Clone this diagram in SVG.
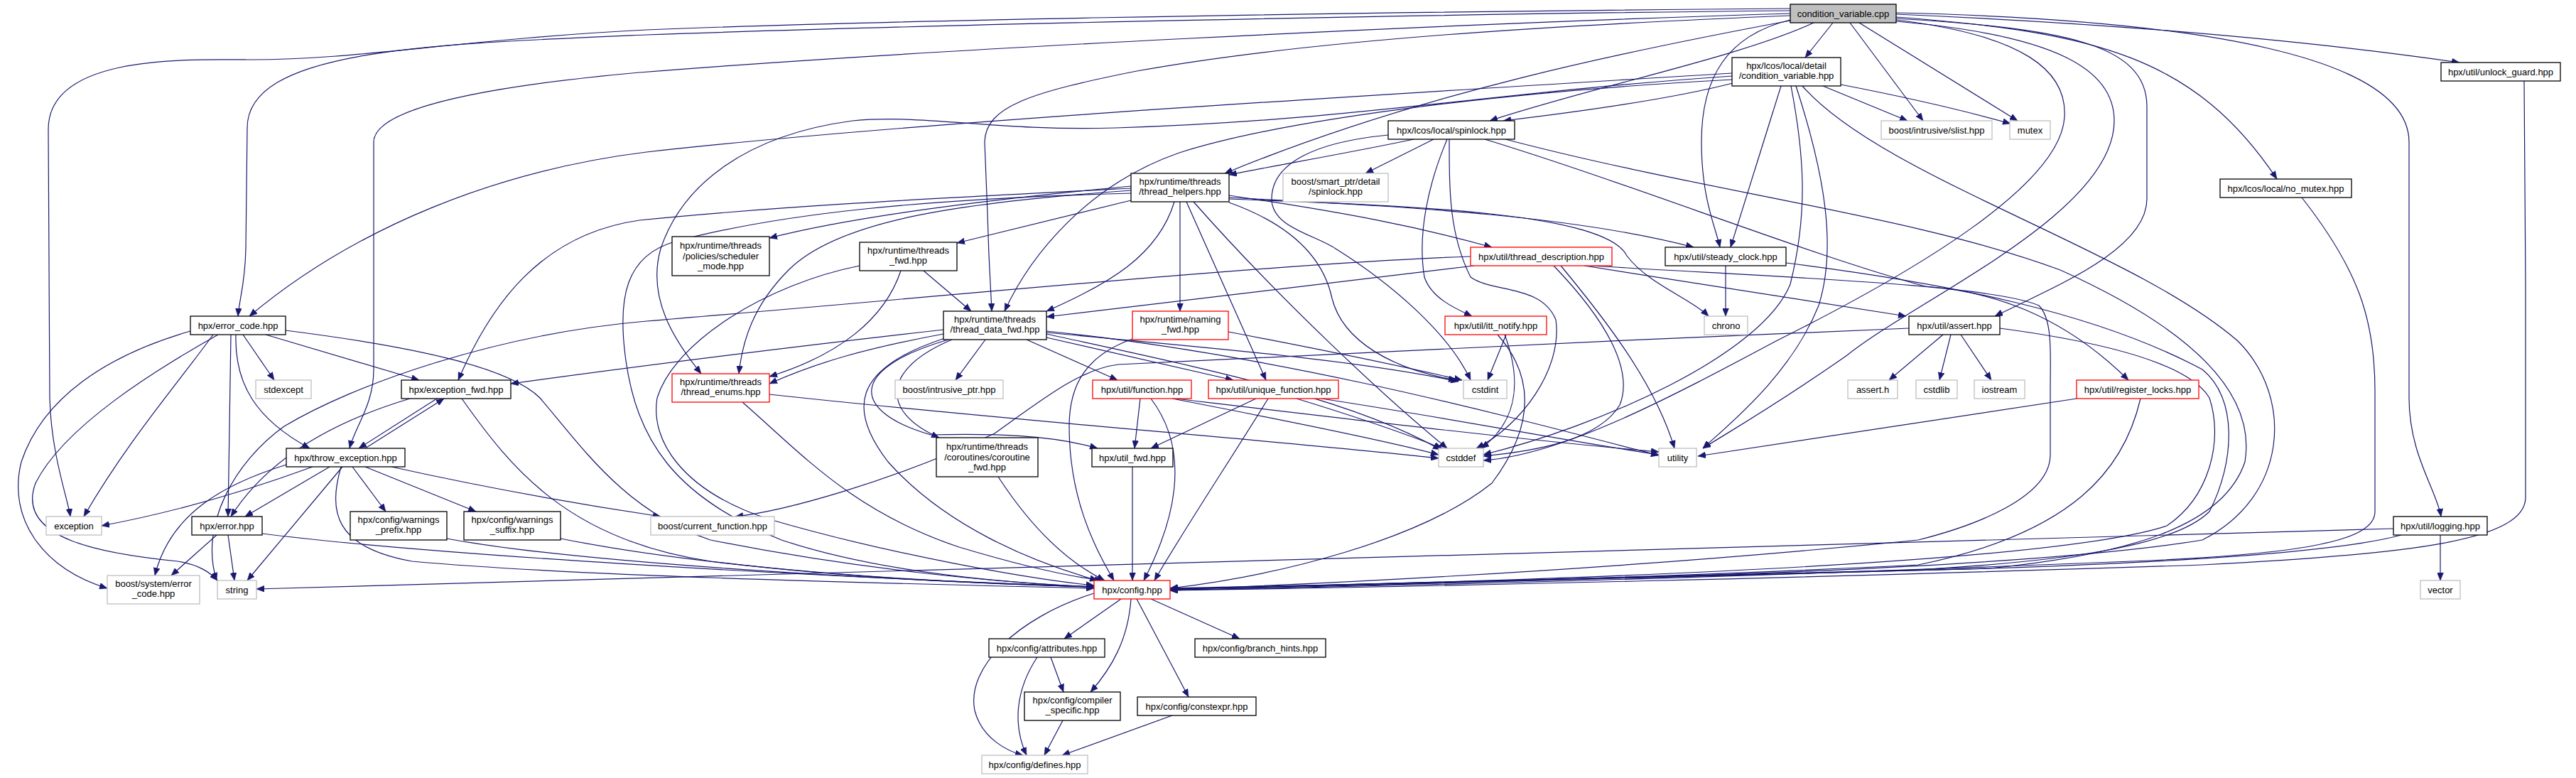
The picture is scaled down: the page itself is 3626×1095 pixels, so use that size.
<svg xmlns="http://www.w3.org/2000/svg" width="3626" height="1095" viewBox="0 0 3626 1095">
<defs>
<marker id="arr" markerUnits="userSpaceOnUse" markerWidth="11" markerHeight="9" refX="11" refY="4.5" orient="auto">
<path d="M0,0 L11,4.5 L0,9 z" fill="#191970" stroke="#191970" stroke-width="0.5"/>
</marker>
<style>
rect{fill:#fff;stroke:#000;stroke-width:1.3}
.r rect{stroke:#ff0000}
.g rect{stroke:#bfbfbf}
.root rect{fill:#bfbfbf}
text{font-family:"Liberation Sans",Arial,sans-serif;font-size:13px;text-anchor:middle;fill:#000}
#edges path{fill:none;stroke:#191970;stroke-width:1.2;marker-end:url(#arr)}
</style>
</defs>
<rect x="0" y="0" width="3626" height="1095" style="fill:#fff;stroke:none"/>
<g id="edges">
<path d="M2580,32 L2541,81"/>
<path d="M2604,32 L2707,170"/>
<path d="M2617,32 L2840,170"/>
<path d="M2669,20 C2900,30 3200,50 3462,88"/>
<path d="M2669,24 C2950,45 3090,80 3205,252"/>
<path d="M2669,18 C3100,28 3391,80 3391,200 L3391,560 C3391,640 3430,690 3436,727"/>
<path d="M2669,26 C2900,40 3022,60 3022,150 L3022,280 C3022,350 2900,400 2808,445"/>
<path d="M2669,28 C2850,50 2910,100 2906,165 C2900,260 2700,380 2500,480 C2350,560 2200,640 2088,648"/>
<path d="M2669,30 C2900,50 2976,100 2976,170 C2976,300 2700,420 2600,500 C2500,570 2430,610 2397,631"/>
<path d="M2520,28 C2430,50 2395,110 2395,200 C2395,280 2415,320 2421,348"/>
<path d="M2553,32 C2450,80 2250,120 2097,170"/>
<path d="M2520,29 C2300,70 2000,130 1724,244"/>
<path d="M2520,22 C2200,35 1850,55 1600,100 C1450,130 1387,150 1386,200 L1390,300 C1392,380 1395,410 1396,438"/>
<path d="M2520,19 C2000,35 1300,70 900,102 C700,120 526,150 526,200 L526,520 C526,570 500,600 492,631"/>
<path d="M2520,15 C2000,20 1300,35 910,49 C600,62 348,70 348,180 L346,350 C345,400 337,420 335,445"/>
<path d="M2520,12 C1800,18 1200,30 910,42 C650,55 500,85 348,84 C250,83 68,80 68,182 L70,560 C72,640 95,700 99,727"/>
<path d="M2439,117 C2350,140 2200,160 2116,170"/>
<path d="M2507,121 L2436,348"/>
<path d="M2566,121 L2685,170"/>
<path d="M2591,119 C2700,140 2780,160 2830,174"/>
<path d="M2438,103 C2000,130 1300,170 910,214 C700,240 500,320 351,445"/>
<path d="M2439,107 C2100,130 1900,170 1570,180 C1400,185 1300,160 1200,170 C1050,190 960,260 930,350 C910,420 950,480 987,526"/>
<path d="M2439,112 C2100,130 1800,170 1660,215 C1530,260 1450,360 1414,438"/>
<path d="M2521,121 C2540,220 2545,300 2520,400 C2480,500 2250,600 2088,640"/>
<path d="M2528,121 C2570,250 2585,350 2560,430 C2520,530 2430,600 2397,631"/>
<path d="M2537,121 C2650,250 3000,350 3150,480 C3230,560 3220,700 3100,760 C2800,810 2000,820 1647,828"/>
<path d="M1990,196 C1900,215 1800,232 1730,246"/>
<path d="M2018,196 L1922,244"/>
<path d="M2037,196 C2010,260 1995,330 2005,390 C2015,420 2050,435 2072,445"/>
<path d="M2040,196 C2040,270 2040,330 2070,390 C2100,412 2170,400 2190,450 C2200,520 2140,600 2078,631"/>
<path d="M1954,190 C1850,200 1790,230 1790,280 C1790,320 1850,330 1880,350 C1960,400 2040,470 2070,535"/>
<path d="M2090,196 C2300,260 2550,360 2710,403 C2800,410 2900,440 2996,535"/>
<path d="M2119,196 C2400,270 2700,305 2900,380 C3100,470 3175,560 3160,650 C3130,740 3000,780 2800,800 C2400,812 1900,820 1647,829"/>
<path d="M1592,262 C1400,280 1200,305 1083,335"/>
<path d="M1592,282 L1347,342"/>
<path d="M1653,284 C1630,360 1560,400 1473,438"/>
<path d="M1661,284 L1661,438"/>
<path d="M1670,284 L1782,535"/>
<path d="M1680,284 C1800,420 1950,560 2037,631"/>
<path d="M1730,285 C1800,310 1860,350 1875,420 C1890,480 1960,520 2050,535"/>
<path d="M1592,268 C1350,285 1180,310 1110,380 C1060,430 1045,480 1040,526"/>
<path d="M1592,265 C1300,280 1100,290 900,310 C760,330 690,430 645,535"/>
<path d="M1592,272 C1300,280 1100,300 950,340 C880,360 870,420 880,500 C895,620 950,700 1100,760 C1250,810 1450,822 1540,826"/>
<path d="M1730,275 C1900,300 2000,320 2100,348"/>
<path d="M1730,278 C1950,290 2200,300 2384,348"/>
<path d="M1730,280 C2000,290 2260,300 2290,360 C2320,400 2380,420 2405,445"/>
<path d="M1300,381 L1367,438"/>
<path d="M1268,381 C1245,450 1180,500 1083,530"/>
<path d="M1210,374 C1080,400 950,480 925,560 C915,620 960,690 1080,730 C1250,780 1450,815 1540,824"/>
<path d="M1328,464 C1100,490 900,515 719,540"/>
<path d="M1328,470 C1220,490 1150,510 1083,540"/>
<path d="M1387,478 L1345,535"/>
<path d="M1445,478 L1573,535"/>
<path d="M1473,475 L1736,535"/>
<path d="M1340,478 C1240,520 1240,580 1322,616"/>
<path d="M1335,478 C1190,520 1200,580 1310,612 C1400,610 1480,612 1545,631"/>
<path d="M1330,476 C1195,520 1196,580 1250,650 C1330,740 1450,790 1545,817"/>
<path d="M1473,468 C1700,490 1900,505 2053,537"/>
<path d="M1473,470 C1700,520 1900,560 2028,633"/>
<path d="M1473,466 C1800,500 2100,580 2335,641"/>
<path d="M1594,477 C1530,500 1505,540 1505,600 C1505,700 1540,770 1568,817"/>
<path d="M1729,467 C1850,490 1950,510 2058,535"/>
<path d="M1045,566 C1130,640 1200,720 1350,770 C1450,800 1510,812 1552,817"/>
<path d="M1083,555 C1400,590 1800,620 2025,645"/>
<path d="M1605,561 L1597,631"/>
<path d="M1620,561 C1680,640 1650,740 1610,817"/>
<path d="M1650,561 C1800,590 1950,620 2025,640"/>
<path d="M1655,561 C1900,590 2150,620 2335,636"/>
<path d="M1768,561 L1620,631"/>
<path d="M1785,561 C1730,650 1670,740 1625,817"/>
<path d="M1825,561 C1920,590 1990,615 2030,631"/>
<path d="M1860,561 C2050,590 2200,620 2335,640"/>
<path d="M1405,671 C1450,740 1500,790 1555,817"/>
<path d="M1594,657 L1594,817"/>
<path d="M1578,843 L1498,899"/>
<path d="M1620,843 L1745,899"/>
<path d="M1592,843 C1588,900 1565,940 1535,974"/>
<path d="M1600,843 L1673,981"/>
<path d="M1540,835 C1430,870 1360,940 1372,1000 C1382,1040 1420,1058 1440,1063"/>
<path d="M1479,925 L1497,974"/>
<path d="M1460,925 C1430,970 1425,1020 1445,1063"/>
<path d="M1496,1014 L1470,1063"/>
<path d="M1650,1007 L1495,1063"/>
<path d="M2429,374 L2429,445"/>
<path d="M2514,370 C2750,400 2950,440 3100,520 C3150,560 3146,650 3110,720 C3060,770 2900,790 2700,802 C2300,815 1900,822 1647,829"/>
<path d="M2075,374 C1900,395 1700,420 1473,446"/>
<path d="M2070,361 C1800,370 1300,420 910,452 C700,470 500,540 400,600 C330,650 280,740 305,817"/>
<path d="M2187,374 C2260,450 2300,520 2280,570 C2250,620 2160,635 2088,642"/>
<path d="M2197,374 C2260,450 2330,540 2357,631"/>
<path d="M2230,374 L2683,445"/>
<path d="M2240,374 C2500,390 2800,400 2870,430 C2890,450 2886,500 2886,550 L2886,640 C2886,700 2780,740 2700,760 C2300,800 1900,820 1647,830"/>
<path d="M2120,471 L2094,535"/>
<path d="M2118,471 C2140,530 2140,590 2085,631"/>
<path d="M2108,471 C2160,530 2160,600 2100,680 C2000,760 1800,810 1647,828"/>
<path d="M2735,471 L2659,535"/>
<path d="M2746,471 L2730,535"/>
<path d="M2760,471 L2803,535"/>
<path d="M2687,462 C2300,478 1700,505 1574,513 C1520,520 1470,560 1400,610 C1250,680 1100,720 1035,727"/>
<path d="M2815,462 C2950,480 3080,510 3110,560 C3130,620 3110,700 3050,740 C2900,790 2300,815 1647,829"/>
<path d="M2923,561 L2390,642"/>
<path d="M3013,561 C2990,660 2920,750 2700,795 C2300,815 1900,824 1647,829"/>
<path d="M3240,278 C3320,380 3343,450 3343,550 L3343,720 C3343,760 3250,780 3000,790 C2500,810 2000,825 1647,830"/>
<path d="M3553,114 L3555,400 L3555,700 C3555,760 3400,780 3100,795 C2600,812 2000,826 1647,831"/>
<path d="M3435,753 L3435,817"/>
<path d="M3369,744 L361,829"/>
<path d="M3380,753 C3300,775 3100,790 2800,800 C2300,815 1900,825 1647,831"/>
<path d="M342,471 L386,535"/>
<path d="M374,471 L590,535"/>
<path d="M332,471 C330,540 360,590 436,631"/>
<path d="M325,471 L321,727"/>
<path d="M300,471 C250,540 180,620 118,727"/>
<path d="M402,465 C600,490 720,520 760,560 C820,630 880,720 1000,760 C1200,800 1400,820 1540,826"/>
<path d="M268,466 C150,500 60,560 30,650 C10,730 60,800 151,828"/>
<path d="M307,471 C220,520 90,600 50,680 C20,760 150,780 250,790 C280,795 295,805 306,817"/>
<path d="M615,561 L505,631"/>
<path d="M577,561 C480,590 380,640 325,727"/>
<path d="M650,561 C720,660 800,760 1000,790 C1200,815 1400,822 1540,826"/>
<path d="M514,631 L625,561"/>
<path d="M440,657 C350,690 250,720 143,740"/>
<path d="M464,657 L345,727"/>
<path d="M482,657 L348,817"/>
<path d="M403,654 C320,680 240,720 218,810"/>
<path d="M551,657 C700,690 850,715 930,727"/>
<path d="M496,657 L543,720"/>
<path d="M514,657 L670,720"/>
<path d="M480,657 C462,720 470,770 580,790 C800,810 1200,820 1540,828"/>
<path d="M305,753 L241,810"/>
<path d="M321,753 L330,817"/>
<path d="M369,751 C600,780 1100,810 1540,826"/>
<path d="M629,758 C800,790 1200,815 1540,826"/>
<path d="M789,758 C1000,800 1300,820 1540,826"/>
</g>
<g id="n_root" class="root"><rect x="2520" y="6" width="149" height="26"/><text x="2594.5" y="23.5">condition_variable.cpp</text></g>
<g id="n_cvh"><rect x="2438" y="81" width="153" height="40"/><text x="2514.5" y="97">hpx/lcos/local/detail</text><text x="2514.5" y="111">/condition_variable.hpp</text></g>
<g id="n_spin"><rect x="1954" y="170" width="178" height="26"/><text x="2043" y="187.5">hpx/lcos/local/spinlock.hpp</text></g>
<g id="n_bspin" class="g"><rect x="1806" y="244" width="148" height="40"/><text x="1880" y="260">boost/smart_ptr/detail</text><text x="1880" y="274">/spinlock.hpp</text></g>
<g id="n_th"><rect x="1592" y="244" width="138" height="40"/><text x="1661" y="260">hpx/runtime/threads</text><text x="1661" y="274">/thread_helpers.hpp</text></g>
<g id="n_sm"><rect x="946" y="333" width="137" height="55"/><text x="1014.5" y="350">hpx/runtime/threads</text><text x="1014.5" y="365">/policies/scheduler</text><text x="1014.5" y="379">_mode.hpp</text></g>
<g id="n_tf"><rect x="1210" y="341" width="137" height="40"/><text x="1278.5" y="357">hpx/runtime/threads</text><text x="1278.5" y="371">_fwd.hpp</text></g>
<g id="n_tdf"><rect x="1328" y="438" width="145" height="40"/><text x="1400.5" y="454">hpx/runtime/threads</text><text x="1400.5" y="468">/thread_data_fwd.hpp</text></g>
<g id="n_nf" class="r"><rect x="1594" y="438" width="135" height="40"/><text x="1661.5" y="454">hpx/runtime/naming</text><text x="1661.5" y="468">_fwd.hpp</text></g>
<g id="n_te" class="r"><rect x="946" y="526" width="137" height="40"/><text x="1014.5" y="542">hpx/runtime/threads</text><text x="1014.5" y="556">/thread_enums.hpp</text></g>
<g id="n_bip" class="g"><rect x="1260" y="535" width="152" height="26"/><text x="1336" y="552.5">boost/intrusive_ptr.hpp</text></g>
<g id="n_fn" class="r"><rect x="1538" y="535" width="139" height="26"/><text x="1607.5" y="552.5">hpx/util/function.hpp</text></g>
<g id="n_ufn" class="r"><rect x="1701" y="535" width="183" height="26"/><text x="1792.5" y="552.5">hpx/util/unique_function.hpp</text></g>
<g id="n_cf"><rect x="1318" y="616" width="143" height="55"/><text x="1389.5" y="633">hpx/runtime/threads</text><text x="1389.5" y="648">/coroutines/coroutine</text><text x="1389.5" y="662">_fwd.hpp</text></g>
<g id="n_uf"><rect x="1537" y="631" width="114" height="26"/><text x="1594" y="648.5">hpx/util_fwd.hpp</text></g>
<g id="n_bcf" class="g"><rect x="916" y="727" width="174" height="26"/><text x="1003" y="744.5">boost/current_function.hpp</text></g>
<g id="n_cfg" class="r"><rect x="1540" y="817" width="107" height="26"/><text x="1593.5" y="834.5">hpx/config.hpp</text></g>
<g id="n_attr"><rect x="1392" y="899" width="163" height="26"/><text x="1473.5" y="916.5">hpx/config/attributes.hpp</text></g>
<g id="n_bh"><rect x="1682" y="899" width="184" height="26"/><text x="1774" y="916.5">hpx/config/branch_hints.hpp</text></g>
<g id="n_cs"><rect x="1442" y="974" width="135" height="40"/><text x="1509.5" y="990">hpx/config/compiler</text><text x="1509.5" y="1004">_specific.hpp</text></g>
<g id="n_ce"><rect x="1601" y="981" width="167" height="26"/><text x="1684.5" y="998.5">hpx/config/constexpr.hpp</text></g>
<g id="n_def" class="g"><rect x="1382" y="1063" width="149" height="26"/><text x="1456.5" y="1080.5">hpx/config/defines.hpp</text></g>
<g id="n_ec"><rect x="268" y="445" width="134" height="26"/><text x="335" y="462.5">hpx/error_code.hpp</text></g>
<g id="n_stdexcept" class="g"><rect x="360" y="535" width="78" height="26"/><text x="399" y="552.5">stdexcept</text></g>
<g id="n_ef"><rect x="565" y="535" width="154" height="26"/><text x="642" y="552.5">hpx/exception_fwd.hpp</text></g>
<g id="n_tx"><rect x="403" y="631" width="167" height="26"/><text x="486.5" y="648.5">hpx/throw_exception.hpp</text></g>
<g id="n_exception" class="g"><rect x="65" y="727" width="78" height="26"/><text x="104" y="744.5">exception</text></g>
<g id="n_err"><rect x="270" y="727" width="99" height="26"/><text x="319.5" y="744.5">hpx/error.hpp</text></g>
<g id="n_wp"><rect x="493" y="720" width="136" height="40"/><text x="561" y="736">hpx/config/warnings</text><text x="561" y="750">_prefix.hpp</text></g>
<g id="n_ws"><rect x="653" y="720" width="136" height="40"/><text x="721" y="736">hpx/config/warnings</text><text x="721" y="750">_suffix.hpp</text></g>
<g id="n_bsec" class="g"><rect x="151" y="810" width="130" height="40"/><text x="216" y="826">boost/system/error</text><text x="216" y="840">_code.hpp</text></g>
<g id="n_string" class="g"><rect x="306" y="817" width="55" height="26"/><text x="333.5" y="834.5">string</text></g>
<g id="n_td" class="r"><rect x="2070" y="348" width="199" height="26"/><text x="2169.5" y="365.5">hpx/util/thread_description.hpp</text></g>
<g id="n_sc"><rect x="2344" y="348" width="170" height="26"/><text x="2429" y="365.5">hpx/util/steady_clock.hpp</text></g>
<g id="n_itt" class="r"><rect x="2034" y="445" width="143" height="26"/><text x="2105.5" y="462.5">hpx/util/itt_notify.hpp</text></g>
<g id="n_chrono" class="g"><rect x="2399" y="445" width="61" height="26"/><text x="2429.5" y="462.5">chrono</text></g>
<g id="n_cstdint" class="g"><rect x="2060" y="535" width="61" height="26"/><text x="2090.5" y="552.5">cstdint</text></g>
<g id="n_cstddef" class="g"><rect x="2025" y="631" width="63" height="26"/><text x="2056.5" y="648.5">cstddef</text></g>
<g id="n_utility" class="g"><rect x="2335" y="631" width="53" height="26"/><text x="2361.5" y="648.5">utility</text></g>
<g id="n_ah"><rect x="2687" y="445" width="128" height="26"/><text x="2751" y="462.5">hpx/util/assert.hpp</text></g>
<g id="n_asserth" class="g"><rect x="2601" y="535" width="70" height="26"/><text x="2636" y="552.5">assert.h</text></g>
<g id="n_cstdlib" class="g"><rect x="2697" y="535" width="58" height="26"/><text x="2726" y="552.5">cstdlib</text></g>
<g id="n_iostream" class="g"><rect x="2779" y="535" width="71" height="26"/><text x="2814.5" y="552.5">iostream</text></g>
<g id="n_rl" class="r"><rect x="2923" y="535" width="172" height="26"/><text x="3009" y="552.5">hpx/util/register_locks.hpp</text></g>
<g id="n_slist" class="g"><rect x="2648" y="170" width="156" height="26"/><text x="2726" y="187.5">boost/intrusive/slist.hpp</text></g>
<g id="n_mutex" class="g"><rect x="2829" y="170" width="57" height="26"/><text x="2857.5" y="187.5">mutex</text></g>
<g id="n_ug"><rect x="3436" y="88" width="168" height="26"/><text x="3520" y="105.5">hpx/util/unlock_guard.hpp</text></g>
<g id="n_nm"><rect x="3125" y="252" width="185" height="26"/><text x="3217.5" y="269.5">hpx/lcos/local/no_mutex.hpp</text></g>
<g id="n_lg"><rect x="3369" y="727" width="132" height="26"/><text x="3435" y="744.5">hpx/util/logging.hpp</text></g>
<g id="n_vector" class="g"><rect x="3407" y="817" width="56" height="26"/><text x="3435" y="834.5">vector</text></g>
</svg>
